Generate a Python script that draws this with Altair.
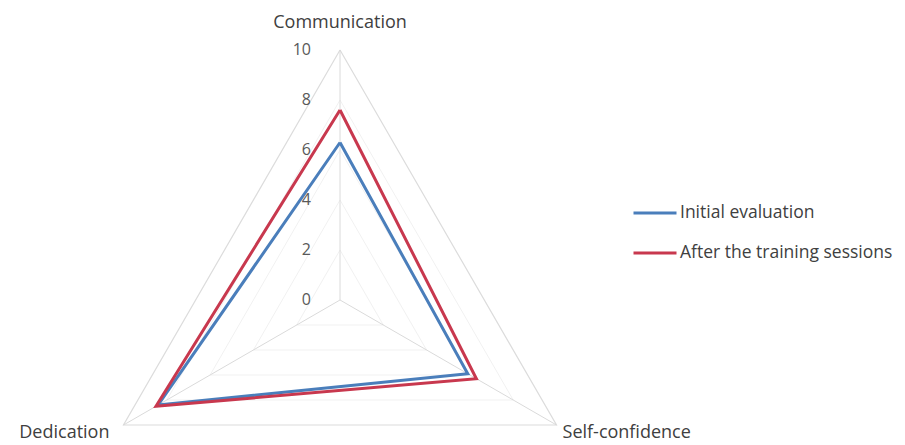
import math
import altair as alt
import pandas as pd

categories = ["Communication", "Self-confidence", "Dedication"]
angles_deg = [90, -30, 210]
initial_eval = [6.3, 5.9, 8.4]
after_training = [7.6, 6.3, 8.5]
series_names = ["Initial evaluation", "After the training sessions"]
series_colors = ["#4A7EBB", "#C8384E"]
tick_values = [0, 2, 4, 6, 8, 10]
grid_levels = [2, 4, 6, 8, 10]

FONT = "Open Sans"
W, H = 889, 437
PX = 25.0  # pixels per unit
CX, CY = 332, 292
xdom = [-CX / PX, (W - CX) / PX]
ydom = [-(H - CY) / PX, CY / PX]

rows = []
for s, vals in zip(series_names, [initial_eval, after_training]):
    for k in range(len(categories) + 1):
        i = k % len(categories)
        rows.append({"series": s, "order": k, "cat": categories[i],
                     "value": vals[i], "angle": angles_deg[i]})
df = pd.DataFrame(rows)

grid_rows = []
for g in grid_levels:
    for k in range(len(categories) + 1):
        i = k % len(categories)
        grid_rows.append({"level": g, "order": k, "value": g, "angle": angles_deg[i]})
grid_df = pd.DataFrame(grid_rows)

spoke_df = pd.DataFrame({"cat": categories, "angle": angles_deg, "value": [10] * 3})
tick_df = pd.DataFrame({"tick": tick_values})
label_df = pd.DataFrame({"cat": categories, "angle": angles_deg})

xs = alt.Scale(domain=xdom, nice=False, zero=False)
ys = alt.Scale(domain=ydom, nice=False, zero=False)
X = lambda f: alt.X(f, type="quantitative", scale=xs, axis=None)
Y = lambda f: alt.Y(f, type="quantitative", scale=ys, axis=None)

def polar(chart):
    return chart.transform_calculate(
        px="datum.value * cos(datum.angle * PI / 180)",
        py="datum.value * sin(datum.angle * PI / 180)",
    )

grid = polar(alt.Chart(grid_df[grid_df.level < 10])).mark_line(color="#f1f1f1", strokeWidth=1).encode(
    x=X("px"), y=Y("py"), detail="level:N", order="order:Q")

outer = polar(alt.Chart(grid_df[grid_df.level == 10])).mark_line(color="#dcdcdc", strokeWidth=1.2).encode(
    x=X("px"), y=Y("py"), order="order:Q")

spokes = polar(alt.Chart(spoke_df)).mark_rule(color="#dadada", strokeWidth=1).encode(
    x=alt.X("zx:Q", scale=xs, axis=None), y=alt.Y("zy:Q", scale=ys, axis=None),
    x2="px:Q", y2="py:Q").transform_calculate(zx="0", zy="0")

lines = polar(alt.Chart(df)).mark_line(strokeWidth=3, strokeJoin="miter").encode(
    x=X("px"), y=Y("py"), order="order:Q",
    color=alt.Color("series:N",
                    scale=alt.Scale(domain=series_names, range=series_colors),
                    sort=series_names,
                    legend=alt.Legend(title=None, orient="none", legendX=624, legendY=182,
                                      symbolType="stroke", symbolSize=1849,
                                      symbolStrokeWidth=3, labelFont=FONT,
                                      labelFontSize=17.5, labelColor="#404040",
                                      labelOffset=2, rowPadding=8,
                                      labelLimit=400)),
)

ticks = alt.Chart(tick_df).mark_text(font=FONT, fontSize=16, color="#595959",
                                     align="right", baseline="middle", dx=-29).encode(
    x=alt.X("zx:Q", scale=xs, axis=None), y=Y("tick"), text="tick:Q").transform_calculate(zx="0")

def cat_label(name, align, dx, dy, r):
    return alt.Chart(label_df[label_df.cat == name]).transform_calculate(
        px=f"{r} * cos(datum.angle * PI / 180)",
        py=f"{r} * sin(datum.angle * PI / 180)",
    ).mark_text(font=FONT, fontSize=18, color="#404040", align=align,
                baseline="middle", dx=dx, dy=dy).encode(x=X("px"), y=Y("py"), text="cat:N")

labels = [
    cat_label("Communication", "center", 0, 0, 11.1),
    cat_label("Self-confidence", "left", 6, 8, 10),
    cat_label("Dedication", "right", -14, 8, 10),
]

chart = alt.layer(grid, outer, spokes, lines, ticks, *labels).properties(
    width=W, height=H, autosize=alt.AutoSizeParams(type="none"), padding=0,
).configure_view(stroke=None)

chart.save("out.html", embed_options={"renderer": "svg", "actions": False})
